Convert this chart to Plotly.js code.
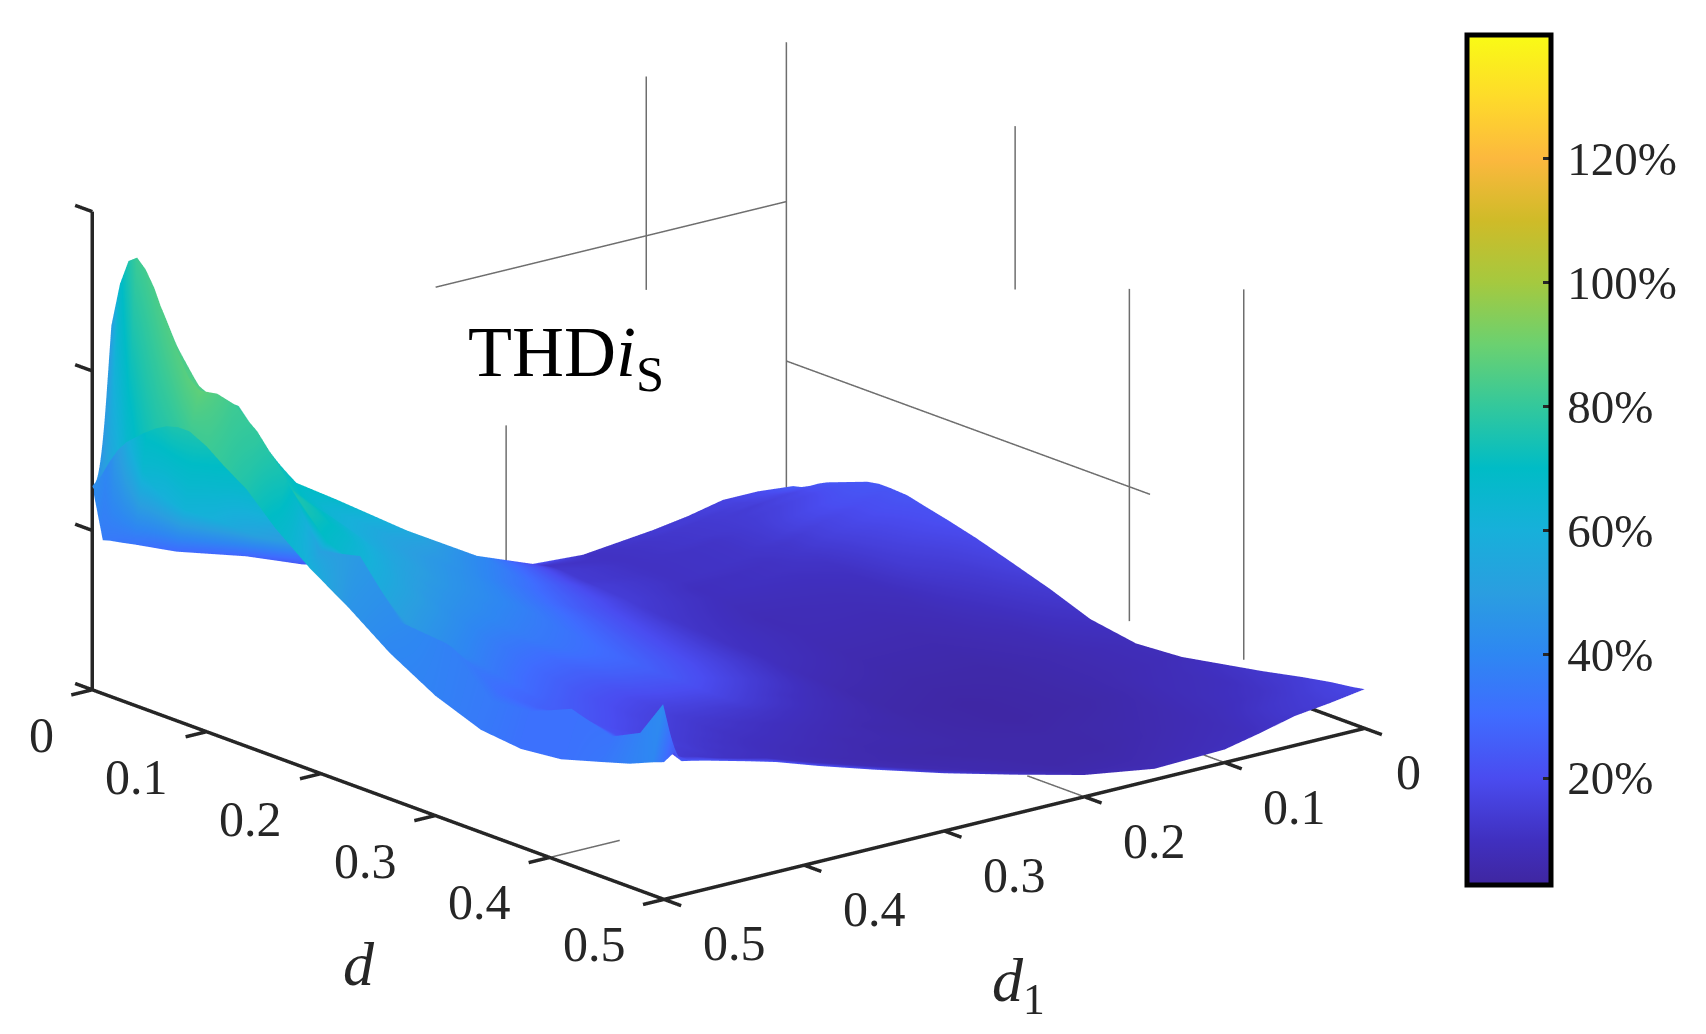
<!DOCTYPE html>
<html><head><meta charset="utf-8">
<script src="https://cdn.plot.ly/plotly-3.0.1.min.js"></script>
<style>html,body{margin:0;padding:0;background:#fff}#c{width:1706px;height:1034px}</style></head>
<body><div id="c"></div>
<script>
var serif = '"Liberation Serif","Times New Roman",serif';
var dVals = [0,0.0075,0.015,0.0225,0.03,0.0375,0.045,0.055,0.065,0.075,0.085,0.1,0.115,0.135,0.16,0.19,0.225,0.26,0.3,0.34,0.375,0.41,0.445,0.47,0.49,0.5];
var d1Vals = [0,0.025,0.05,0.075,0.1,0.15,0.2,0.25,0.3,0.35,0.39,0.42,0.44,0.455,0.47,0.48,0.4875,0.4925,0.5];
var zHeight = [
[30,33,33,26,21,14,18,32,50,68,88,100,108,116,124,129,133,135,187],
[32,34,34,27,22,16,22,38,60,85,110,135,150,165,195,225,260,335,199],
[36,36,35,29,24,18,25,44,72,105,135,175,205,235,270,310,350,376,215],
[41,39,37,31,27,20,28,50,84,122,155,212,235,260,305,345,375,400,229],
[45,43,40,33,30,22,31,56,95,139,173,247,263,283,335,370,387,406,239],
[48,45,41,34,31,23,32,56,93,136,172,238,258,280,320,355,375,398,246],
[51,47,42,34,32,24,32,55,90,132,170,225,250,272,300,330,355,384,253],
[55,48,43,34,32,24,31,52,86,128,165,212,238,260,285,305,325,358,261],
[59,50,44,34,32,24,30,50,82,125,160,200,228,250,272,290,310,334,267],
[61,51,44,33,31,23,29,48,79,120,155,192,218,240,262,280,295,313,270],
[61,51,44,33,30,22,28,46,76,116,150,185,210,232,252,270,288,305,270],
[60,50,43,32,29,21,27,44,72,110,144,180,202,222,244,262,285,308,262],
[56,48,41,31,28,20,26,42,68,104,138,175,196,212,235,255,282,304,250],
[51,44,38,29,26,18,24,39,63,98,130,165,185,200,218,238,265,287,236],
[44,38,34,26,23,16,23,37,58,92,122,152,172,185,198,215,240,254,210],
[34,30,28,22,19,14,21,35,54,85,114,138,155,165,172,185,205,198,185],
[22,21,20,17,14,12,20,33,50,78,105,125,140,148,152,165,190,207,161],
[8,11,12,11,9,10,18,32,49,74,98,115,125,130,138,145,155,160,134],
[1,4,6,6,6,9,17,32,48,70,91,104,110,115,128,138,150,156,110],
[4,4,5,5,5,8,16,32,48,68,87,98,102,106,118,122,125,118,94],
[11,9,8,6,6,7,16,32,49,68,86,96,100,103,115,120,124,122,90],
[18,15,12,8,7,7,17,33,50,69,86,97,102,106,116,122,130,138,94],
[26,21,17,11,8,8,18,34,51,70,87,99,105,110,118,122,125,126,105],
[31,26,22,14,10,9,19,35,52,71,87,100,107,112,120,126,132,139,113],
[34,29,25,17,11,10,20,36,53,72,88,101,107,112,118,121,127,173,122],
[36,31,27,19,12,10,20,36,53,72,88,101,108,113,118,121,123,133,126]
];
var thdPercent = [
[25,20,17,15,14,12,30,26,25,24,28,29,30,31,33,34,35,36,42],
[25,20,17,15,14,11,22,30,32,45,52,60,62,60,65,60,55,48,48],
[24,19,16,14,13,11,16,36,42,52,62,68,72,76,78,78,78,68,54],
[24,18,16,14,13,11,13,40,50,60,68,74,78,80,82,82,80,76,60],
[24,18,15,14,13,11,12,42,56,68,74,80,82,84,84,83,82,82,66],
[24,19,16,14,13,11,13,40,54,65,72,79,83,84,84,84,83,83,70],
[24,19,16,14,13,11,14,38,52,62,70,77,83,85,85,85,84,84,73],
[24,20,17,14,12,11,14,36,49,59,68,75,83,86,86,86,85,85,76],
[24,21,18,14,12,11,14,34,47,56,65,74,82,86,87,87,86,86,78],
[24,21,18,14,12,11,15,32,45,54,63,72,81,85,87,87,87,87,80],
[23,20,17,13,12,11,15,30,43,52,61,70,79,83,86,88,88,88,82],
[23,20,17,13,11,10,15,28,41,50,59,68,77,81,84,86,86,85,82],
[22,19,16,12,11,10,14,26,39,48,57,66,74,78,82,84,84,82,80],
[21,18,15,11,10,9,13,25,37,45,53,62,70,74,78,80,81,80,76],
[19,16,14,10,9,8,12,23,34,41,48,56,63,67,71,74,76,74,68],
[17,14,12,9,8,8,11,21,31,37,43,49,55,59,63,66,68,52,60],
[14,12,10,8,7,7,10,19,28,33,37,42,47,50,53,55,56,48,46],
[11,10,8,7,6,6,8,16,24,28,31,35,39,42,45,47,48,42,40],
[9,8,7,6,5,5,6,11,18,22,25,28,31,34,36,37,38,38,38],
[9,8,7,6,5,4,5,8,12,16,19,22,25,27,29,30,31,35,35],
[11,9,8,6,5,4,5,6,9,12,15,18,21,23,25,26,27,32,32],
[13,10,9,7,6,5,5,6,7,10,12,15,17,19,21,23,24,32,32],
[15,12,10,8,7,5,5,5,6,8,10,12,14,16,18,19,21,33,34],
[17,14,12,9,8,6,5,6,6,7,9,11,12,14,15,16,18,38,38],
[18,15,13,10,9,7,6,6,7,8,9,10,11,12,13,14,16,42,40],
[18,15,13,11,10,8,8,12,16,20,22,23,24,24,24,24,25,25,32]
];
var cMin = 2.7, cMax = 140;
var colorVals = [2.7,10,20,30,40,50,60,70,80,90,100,110,120,130,140];
var colorHex = ['#3f26a0','#4030c0','#4a4cf0','#3f6cff','#2e87f2','#2a9ee0','#17b0da','#00bcc6','#33c89c','#6bd170','#a5c93f','#cfbb28','#fcb83e','#fedb2a','#f9fb15'];
var axisTicks = [0,0.1,0.2,0.3,0.4,0.5];
var axisLabels = ['0','0.1','0.2','0.3','0.4','0.5'];
var zTicks = [0,146.3,292.7,439];
var gridD1 = [0.0047,0.0047,null,0.1047,0.1047,null,0.2047,0.2047,null,0.0047,0.0047,null,0.0047,0.0047,null,0.0047,0.0047,null,0.0047,0.255,null,0.0047,0.0047,null,0.45,0.5,null,0.2,0.2,null,0.1,0.1];
var gridD  = [0,0,null,0,0,null,0,0,null,0.2,0.2,null,0.3,0.3,null,0.4,0.4,null,0,0,null,0,0.318,null,0.4,0.4,null,0.45,0.5,null,0.465,0.5];
var gridZ  = [30,439,null,243,439,null,18,150,null,289,439,null,23,328,null,26,366,null,292.7,292.7,null,146.3,146.3,null,0,0,null,0,0,null,0,0];

var colorscale = colorVals.map(function(v,i){return [(v-cMin)/(cMax-cMin), colorHex[i]];});
var T = 0.015;
function seg(arr,a,b){arr.push(a,b,null);}
var ax={x:[],y:[],z:[]};
function line(x0,x1,y0,y1,z0,z1){seg(ax.x,x0,x1);seg(ax.y,y0,y1);seg(ax.z,z0,z1);}
line(0.5,0.5,0,0.5,0,0);
line(0,0.5,0.5,0.5,0,0);
line(0.5,0.5,0,0,0,439);
line(0,0,0.45,0.5,0,0);
axisTicks.forEach(function(t){ line(0.5,0.5+T,t,t,0,0); line(t,t,0.5,0.5+T,0,0); });
zTicks.forEach(function(t){ line(0.5,0.5,0,-T,t,t); });

function lab(x,y,text,xs,ys,size){
  return {x:x,y:y,z:0,text:text,showarrow:false,xshift:xs,yshift:ys,
    font:{family:serif,size:size,color:'#262626'}};
}
var ann=[];
axisTicks.forEach(function(t,i){
  ann.push(lab(0.5,t,axisLabels[i],i==0?-51:-70,-45,50));
  ann.push(lab(t,0.5,axisLabels[i],i==0?44:70,-44,50));
});
ann.push(lab(0.5,0.25,'<i>d</i>',-19,-169,62));
ann.push(lab(0.25,0.5,'<i>d</i><sub>1</sub>',4,-171,62));

var k=6;
var traces=[
 {type:'surface',x:d1Vals,y:dVals,z:zHeight,surfacecolor:thdPercent,cmin:cMin,cmax:cMax,colorscale:colorscale,
  lighting:{ambient:1,diffuse:0,specular:0,fresnel:0,roughness:1},hoverinfo:'skip',
  contours:{x:{highlight:false},y:{highlight:false},z:{highlight:false}},
  colorbar:{x:1467/1706,xanchor:'left',xpad:0,ypad:0,y:0.555,yanchor:'middle',lenmode:'pixels',len:850,thickness:84,
    outlinewidth:5,outlinecolor:'#000',ticks:'inside',ticklen:10,tickwidth:3,tickcolor:'#262626',
    tickmode:'array',tickvals:[20,40,60,80,100,120],ticktext:['\u200a20%','\u200a40%','\u200a60%','\u200a80%','\u200a100%','\u200a120%'],
    tickfont:{family:serif,size:47,color:'#262626'}}},
 {type:'scatter3d',mode:'lines',x:gridD1,y:gridD,z:gridZ,line:{color:'#6e6e6e',width:3},hoverinfo:'skip',showlegend:false},
 {type:'scatter3d',mode:'lines',x:ax.x,y:ax.y,z:ax.z,line:{color:'#262626',width:7},hoverinfo:'skip',showlegend:false}
];
var noAxis=function(r){return {visible:false,range:r,autorange:false};};
var layout={width:1706,height:1034,margin:{l:0,r:0,t:0,b:0},paper_bgcolor:'#fff',showlegend:false,
 scene:{domain:{x:[0,1457/1706],y:[94/1034,1]},
   xaxis:noAxis([-0.04,0.54]),yaxis:noAxis([-0.04,0.54]),zaxis:noAxis([-15,454]),
   aspectmode:'manual',aspectratio:{x:2.232,y:2.232,z:1.139},
   camera:{eye:{x:0.603*k,y:0.739*k,z:0.299*k},center:{x:0,y:0,z:0},up:{x:0,y:0,z:1},projection:{type:'orthographic'}},
   annotations:ann},
 annotations:[{xref:'paper',yref:'paper',x:466/1706,y:1-357/1034,xanchor:'left',yanchor:'middle',showarrow:false,
   text:'THD<i>i</i><sub>S</sub>',font:{family:serif,size:72,color:'#000'}}]
};
Plotly.newPlot('c',traces,layout,{displayModeBar:false});
</script></body></html>
